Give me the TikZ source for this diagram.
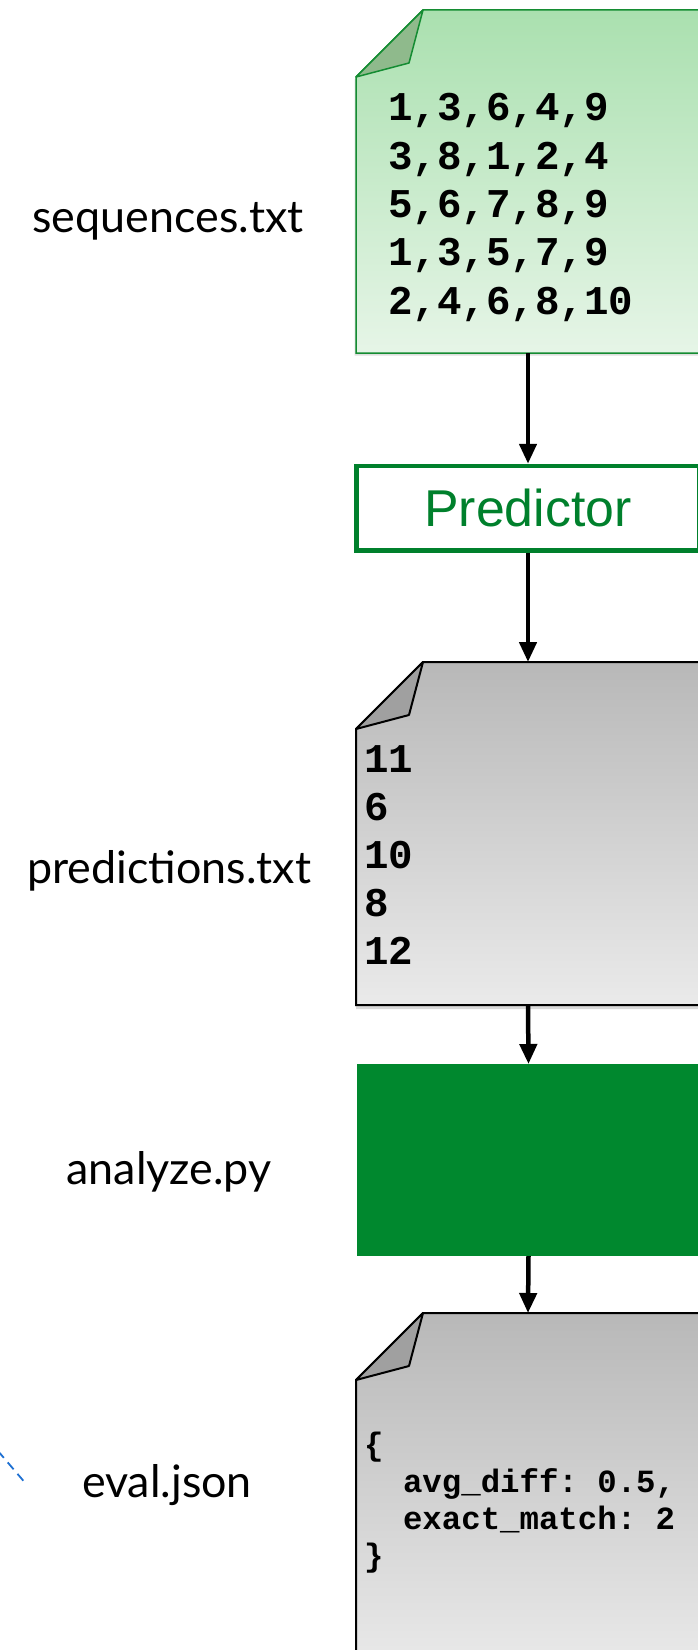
\documentclass[tikz,border=0pt]{standalone}
\usepackage{fontspec}
\setmainfont{Lato}
\newfontfamily\codefont{Liberation Mono}
\newfontfamily\boxfont{Liberation Sans}
\usetikzlibrary{arrows.meta,calc,shadows}

\definecolor{filegreen}{RGB}{20,140,50}
\definecolor{greentop}{RGB}{170,224,175}
\definecolor{greenbottom}{RGB}{230,245,231}
\definecolor{greenfold}{RGB}{143,186,140}
\definecolor{graytop}{RGB}{184,184,184}
\definecolor{graybottom}{RGB}{234,234,234}
\definecolor{grayfold}{RGB}{160,160,160}
\definecolor{predgreen}{RGB}{0,128,44}
\definecolor{scriptgreen}{RGB}{0,136,46}
\definecolor{linkblue}{RGB}{30,112,210}

\tikzset{
  docarea/.style={inner sep=0pt, outer sep=0pt, minimum width=344bp},
  greensheet/.style={draw=filegreen, line width=1.5bp, top color=greentop, bottom color=greenbottom,
    drop shadow={shadow xshift=-1.5bp, shadow yshift=-2.5bp, opacity=0.25}},
  graysheet/.style={draw=black, line width=2bp, top color=graytop, bottom color=graybottom,
    drop shadow={shadow xshift=0bp, shadow yshift=-4bp, opacity=0.3}},
  greenfoldst/.style={draw=filegreen, line width=1.5bp, fill=greenfold, line join=round},
  grayfoldst/.style={draw=black, line width=2bp, fill=grayfold, line join=round},
  codetext/.style={inner sep=0pt, anchor=base west, align=left,
    font=\codefont\bfseries\frenchspacing\fontsize{41}{48.5}\selectfont},
  filelabel/.style={inner sep=0pt, anchor=base, font=\fontsize{45}{54}\selectfont},
  flow/.style={line width=4.5bp, -{Triangle[width=17bp,length=20bp]}},
}

% document sheet with dog-ear: node, sheet style, fold style
\newcommand{\docsheet}[3]{%
  \draw[#2] ($(#1.north west)+(67,0)$) -- (#1.north east) -- (#1.south east)
    -- (#1.south west) -- ($(#1.north west)+(0,67)$) -- cycle;
  \draw[#3] ($(#1.north west)+(67,0)$) -- ($(#1.north west)+(53,53)$)
    -- ($(#1.north west)+(0,67)$) -- cycle;
}

\begin{document}
\begin{tikzpicture}[x=1bp,y=-1bp]
  \useasboundingbox (0,0) rectangle (698,1650);
  \clip (0,0) rectangle (698,1650);

  % input file (text placed at baseline of last line)
  \node (seqs) [docarea, minimum height=343bp] at (528,181.5) {};
  \docsheet{seqs}{greensheet}{greenfoldst}
  \node (seqtext) [codetext] at (388,314) {1,3,6,4,9\\3,8,1,2,4\\5,6,7,8,9\\1,3,5,7,9\\2,4,6,8,10};
  \node (lblseq) [filelabel] at (168,232) {sequences.txt};

  % model
  \node (predictor) [draw=predgreen, line width=4.5bp, minimum width=343bp, minimum height=84.5bp,
    inner sep=0pt, text=predgreen, font=\boxfont\fontsize{52}{60}\selectfont] at (528,508.25) {Predictor};

  % output file
  \node (preds) [docarea, minimum height=343bp] at (528,833.5) {};
  \docsheet{preds}{graysheet}{grayfoldst}
  \node (predtext) [codetext, font=\codefont\bfseries\fontsize{41}{48}\selectfont] at (364,964) {11\\6\\10\\8\\12};
  \node (lblpred) [filelabel] at (169,883) {predictions.txt};

  % scoring script
  \node (analyze) [fill=scriptgreen, minimum width=343bp, minimum height=192bp, inner sep=0pt, outer sep=0pt]
    at (528.5,1160) {};
  \node (lblanalyze) [filelabel] at (169,1184) {analyze.py};

  % result file
  \node (evals) [docarea, minimum height=357bp] at (528,1491.5) {};
  \docsheet{evals}{graysheet}{grayfoldst}
  \node (evaltext) [codetext, font=\codefont\bfseries\frenchspacing\fontsize{32.5}{37}\selectfont] at (364,1566)
    {\{\\\phantom{xx}avg\_diff: 0.5,\\\phantom{xx}exact\_match: 2\\\}};
  \node (lbleval) [filelabel] at (167,1497) {eval.json};

  % arrows
  \draw[flow] (seqs.south) -- (predictor.north);
  \draw[flow] (predictor.south) -- (preds.north);
  \draw[flow] (preds.south) -- (analyze.north);
  \draw[flow] (analyze.south) -- (evals.north);

  % cut-off link
  \coordinate (linkA) at (-2,1451);
  \coordinate (linkB) at (27,1485);
  \draw[linkblue, line width=1.8bp, dash pattern=on 9bp off 6bp] (linkA) -- (linkB);
\end{tikzpicture}
\end{document}
